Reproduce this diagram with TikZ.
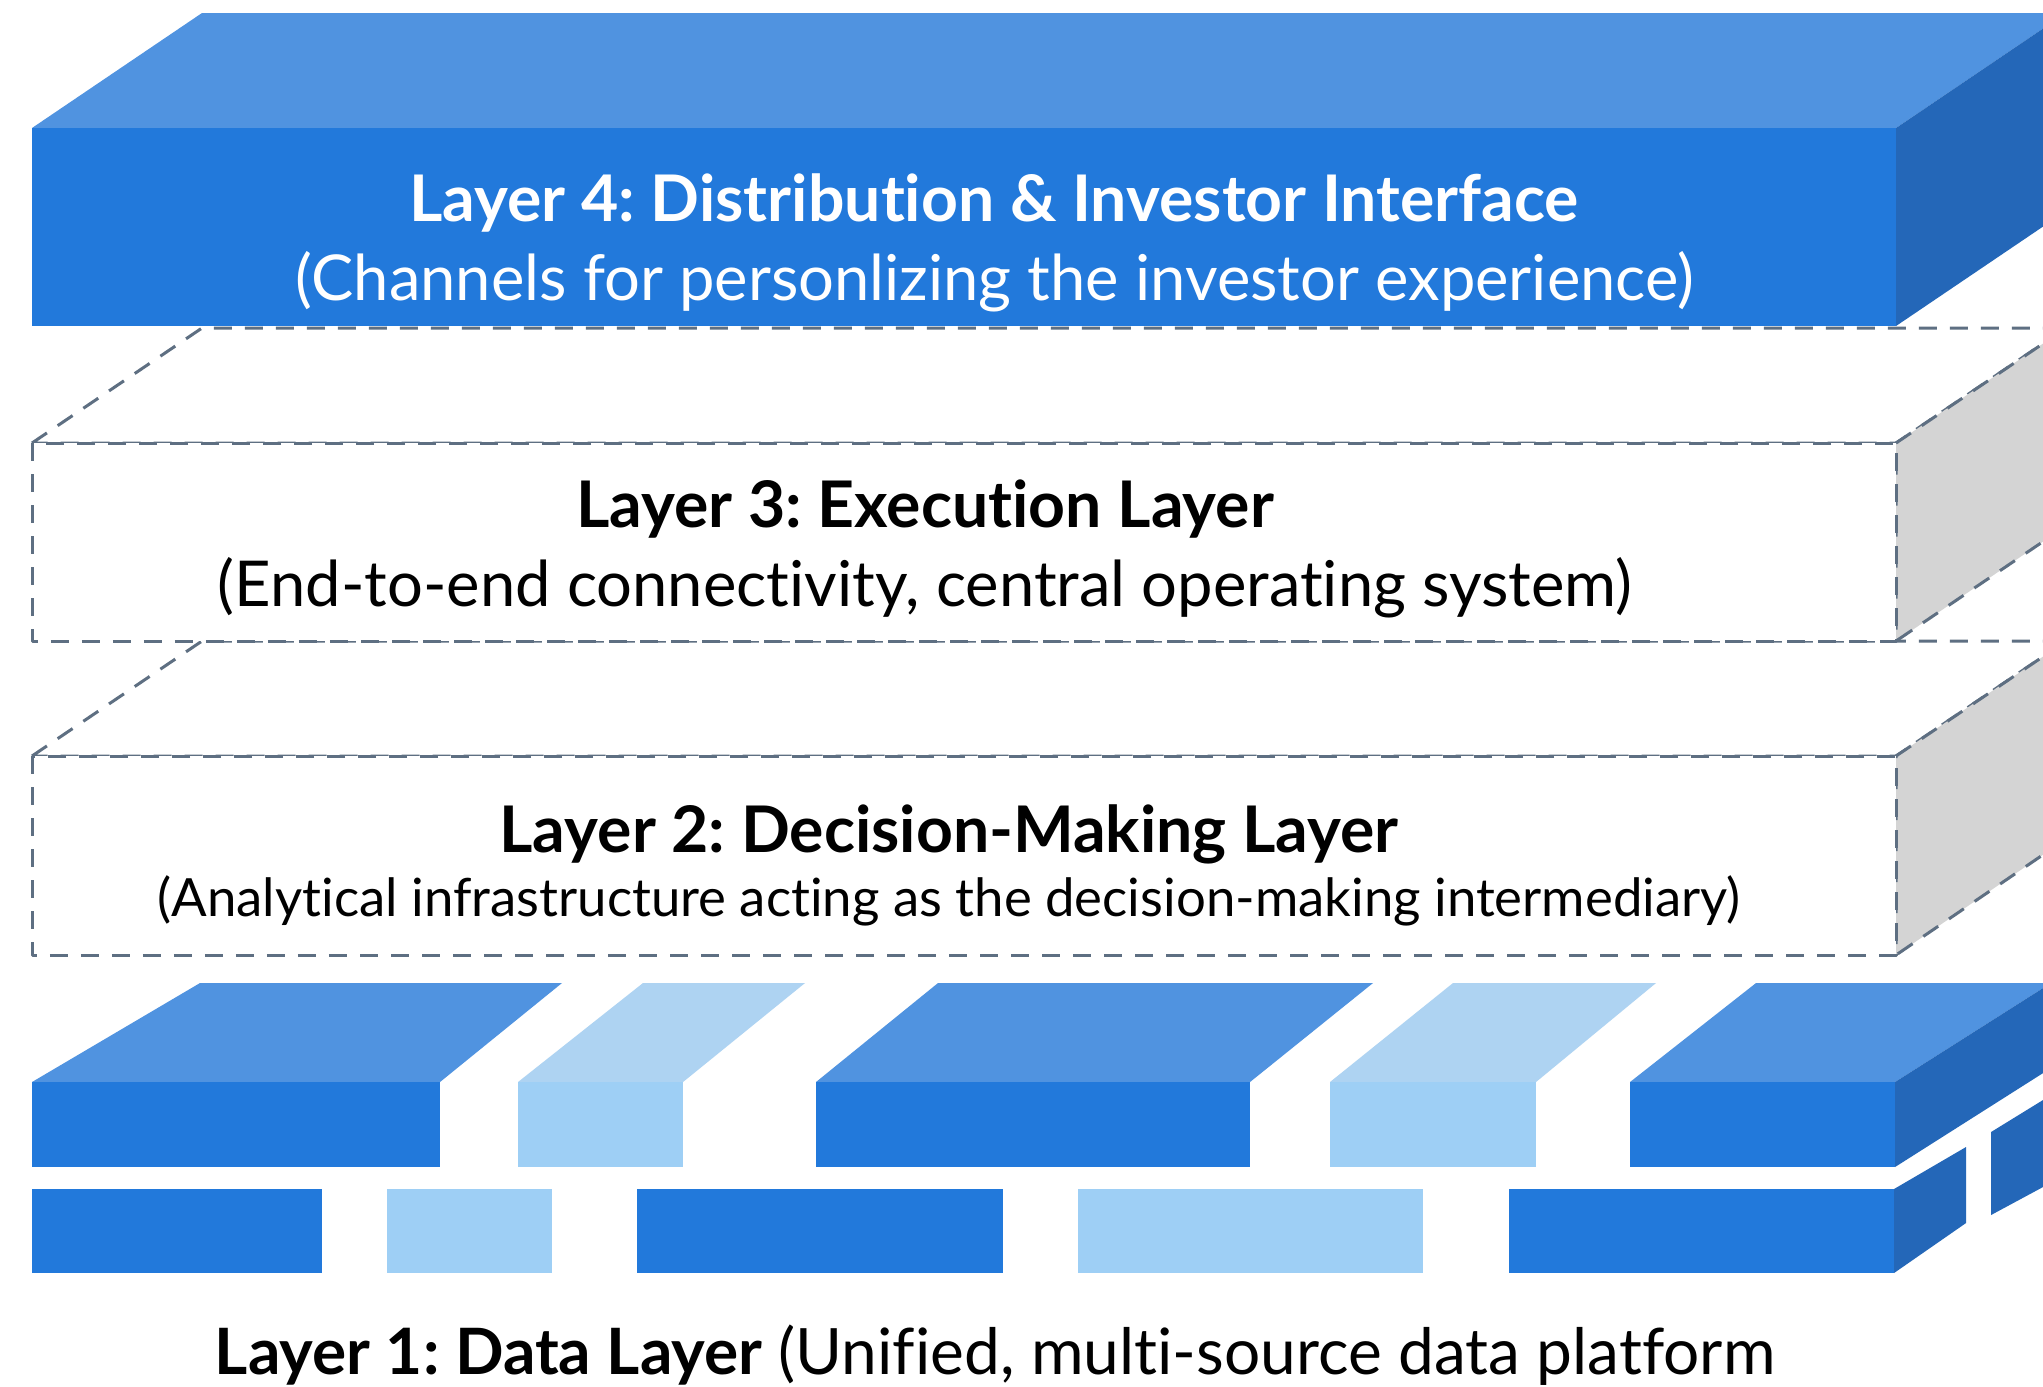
\documentclass[tikz,border=0pt]{standalone}
\usepackage{fontspec}
\setmainfont{Lato}[Ligatures={NoCommon,NoRequired,NoContextual}]
\definecolor{bluefront}{RGB}{34,121,219}
\definecolor{bluetop}{RGB}{80,147,224}
\definecolor{blueside}{RGB}{36,103,184}
\definecolor{lightfront}{RGB}{158,207,245}
\definecolor{lighttop}{RGB}{174,211,242}
\definecolor{greyside}{RGB}{212,212,212}
\definecolor{dashcol}{RGB}{94,111,130}
\tikzset{
  frontface/.style={fill=bluefront},
  topface/.style={fill=bluetop},
  sideface/.style={fill=blueside},
  lightfrontface/.style={fill=lightfront},
  lighttopface/.style={fill=lighttop},
  ghostline/.style={draw=dashcol, line width=0.3mm, dash pattern=on 1.8mm off 1.3mm, line join=round},
  ghostfront/.style={ghostline, fill=white},
  ghostside/.style={ghostline, fill=greyside},
  titletext/.style={anchor=base, font=\bfseries\fontsize{18.3pt}{22pt}\selectfont},
  subtext/.style={anchor=base, font=\fontsize{18pt}{22pt}\selectfont},
}
\frenchspacing
\begin{document}
\begin{tikzpicture}[x=0.1mm, y=-0.1mm]
\useasboundingbox (0,0) rectangle (2043,1386);
\fill[white] (0,0) rectangle (2043,1386);
\clip (0,0) rectangle (2043,1386);

% Layer 2: outlined block with grey side
\path[ghostfront] (32,756) -- (202,641) -- (2066,641) -- (1896,756) -- cycle;
\path[ghostside] (1896,756) -- (2066,641) -- (2066,839) -- (1896,955) -- cycle;
\path[ghostfront] (32,756) rectangle (1896,955);

% Layer 3: outlined block with grey side
\path[ghostfront] (32,443) -- (202,328) -- (2066,328) -- (1896,443) -- cycle;
\path[ghostside] (1896,443) -- (2066,328) -- (2066,526) -- (1896,641) -- cycle;
\path[ghostfront] (32,443) rectangle (1896,641);

% Layer 4: solid block
\path[topface] (32,128) -- (202,13) -- (2066,13) -- (1896,128) -- cycle;
\path[sideface] (1896,128) -- (2066,13) -- (2066,211) -- (1896,326) -- cycle;
\path[frontface] (32,128) rectangle (1896,326);

% Layer 1: upper row of bricks
\path[topface] (32,1082) -- (200,983) -- (562,983) -- (440,1082) -- cycle;
\path[frontface] (32,1082) rectangle (440,1167);
\path[lighttopface] (518,1082) -- (643,983) -- (805,983) -- (683,1082) -- cycle;
\path[lightfrontface] (518,1082) rectangle (683,1167);
\path[topface] (816,1082) -- (938,983) -- (1373,983) -- (1250,1082) -- cycle;
\path[frontface] (816,1082) rectangle (1250,1167);
\path[lighttopface] (1330,1082) -- (1453,983) -- (1656,983) -- (1536,1082) -- cycle;
\path[lightfrontface] (1330,1082) rectangle (1536,1167);
\path[topface] (1630,1082) -- (1756,983) -- (2051,983) -- (1895,1082) -- cycle;
\path[sideface] (1895,1082) -- (2051,983) -- (2051,1068) -- (1895,1167) -- cycle;
\path[frontface] (1630,1082) rectangle (1895,1167);

% Layer 1: lower row of bricks
\path[frontface] (32,1189) rectangle (322,1273);
\path[lightfrontface] (387,1189) rectangle (552,1273);
\path[frontface] (637,1189) rectangle (1003,1273);
\path[lightfrontface] (1078,1189) rectangle (1423,1273);
\path[frontface] (1509,1189) rectangle (1894,1273);
\path[sideface] (1894,1189) -- (1966,1147) -- (1966,1223) -- (1894,1273) -- cycle;
\path[sideface] (1991,1132) -- (2043,1100) -- (2043,1187) -- (1991,1215) -- cycle;

% Labels
\node[titletext, text=white] (l4title) at (994,221) {Layer 4: Distribution \& Investor Interface};
\node[subtext, text=white] (l4sub) at (995,300) {(Channels for personlizing the investor experience)};
\node[titletext] (l3title) at (925,527) {Layer 3: Execution Layer};
\node[subtext] (l3sub) at (925,606) {(End-to-end connectivity, central operating system)};
\node[titletext] (l2title) at (949,852) {Layer 2: Decision-Making Layer};
\node[anchor=base, font=\fontsize{15pt}{18pt}\selectfont] (l2sub) at (949,916) {(Analytical infrastructure acting as the decision-making intermediary)};
\node[anchor=base, font=\fontsize{18.2pt}{22pt}\selectfont] (l1label) at (995,1374) {\textbf{Layer 1: Data Layer} (Unified, multi-source data platform};
\end{tikzpicture}
\end{document}
